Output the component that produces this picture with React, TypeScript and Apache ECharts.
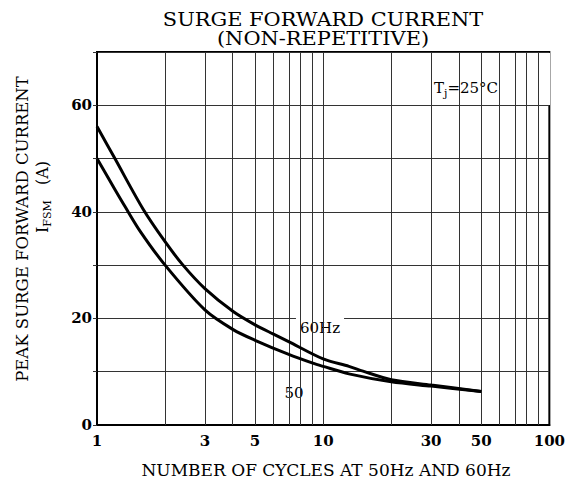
import React, { useEffect, useRef } from "react";
import * as echarts from "echarts";

const cycles60 = [1, 1.2, 1.6, 2, 2.4, 3, 4, 5, 6, 7, 10, 13, 15, 20, 30, 50];
const current60 = [56, 50, 40.5, 34.4, 30, 25.6, 21.3, 18.8, 17.1, 15.7, 12.4, 11, 10.1, 8.5, 7.5, 6.3];
const cycles50 = [1, 1.2, 1.33, 1.55, 2, 3, 4, 5, 7, 9, 10, 13, 20, 30, 50];
const current50 = [50, 44.2, 41, 36.4, 30, 21.6, 17.9, 15.9, 13.3, 11.6, 11, 9.6, 8.1, 7.3, 6.3];
const xTickLabels = [1, 3, 5, 10, 30, 50, 100];
const yTickLabels = [0, 20, 40, 60];
const gridCycles = [2, 3, 4, 5, 6, 7, 8, 9, 10, 20, 30, 40, 50, 60, 70, 80, 90];

const FONT = "DejaVu Serif";

export default function App() {
  const ref = useRef<HTMLDivElement>(null);
  useEffect(() => {
    if (!ref.current) return;
    const chart = echarts.init(ref.current, undefined, { renderer: "svg" });
    const toPts = (xs: number[], ys: number[]) => xs.map((x, i) => [Math.log10(x), ys[i]]);
    chart.setOption({
      animation: false,
      backgroundColor: "#fff",
      grid: { left: 97, right: 17, top: 52, bottom: 67, show: true, borderColor: "#000", borderWidth: 2 },
      xAxis: {
        type: "value",
        min: 0,
        max: 2,
        axisLine: { show: true, lineStyle: { color: "#000", width: 2 } },
        axisTick: { show: false },
        splitLine: { show: false },
        axisLabel: {
          customValues: xTickLabels.map((v) => Math.log10(v)),
          formatter: (v: number) => String(Math.round(Math.pow(10, v))),
          color: "#000",
          fontFamily: FONT,
          fontWeight: "bold",
          fontSize: 15,
          margin: 8,
        },
      },
      yAxis: {
        type: "value",
        min: 0,
        max: 70,
        interval: 10,
        axisLine: { show: true, lineStyle: { color: "#000", width: 2 } },
        axisTick: { show: true, length: 4, lineStyle: { color: "#333" } },
        splitLine: { show: true, lineStyle: { color: "#333", width: 1 } },
        axisLabel: {
          formatter: (v: number) => (yTickLabels.includes(v) ? String(v) : ""),
          color: "#000",
          fontFamily: FONT,
          fontWeight: "bold",
          fontSize: 15,
          margin: 5,
        },
      },
      graphic: [
        {
          type: "text",
          z: 10,
          x: 323,
          y: 29,
          scaleX: 1.1,
          style: {
            text: "SURGE FORWARD CURRENT\n(NON-REPETITIVE)",
            align: "center",
            verticalAlign: "middle",
            fill: "#000",
            fontFamily: FONT,
            fontSize: 19,
            lineHeight: 19,
          },
        },
        { type: "rect", z: 3, shape: { x: 395, y: 53, width: 155, height: 52 }, style: { fill: "#fff" } },
        {
          type: "text",
          z: 4,
          x: 466,
          y: 88,
          style: {
            text: "{t|T}{s|j}{t|=25°C}",
            align: "center",
            verticalAlign: "middle",
            rich: {
              t: { fontSize: 15, fontFamily: FONT, lineHeight: 22, fill: "#000" },
              s: { fontSize: 11, fontFamily: FONT, lineHeight: 12, verticalAlign: "bottom", fill: "#000" },
            },
          },
        },
        {
          type: "text",
          z: 4,
          x: 320,
          y: 328,
          style: {
            text: "60Hz",
            align: "center",
            verticalAlign: "middle",
            fontFamily: FONT,
            fontSize: 15,
            fill: "#000",
            backgroundColor: "#fff",
            padding: [6, 4, 6, 4],
          },
        },
        {
          type: "text",
          z: 4,
          x: 294,
          y: 393,
          style: {
            text: "50",
            align: "center",
            verticalAlign: "middle",
            fontFamily: FONT,
            fontSize: 15,
            fill: "#000",
            backgroundColor: "#fff",
            padding: [7, 4, 7, 4],
          },
        },
        {
          type: "text",
          z: 10,
          x: 326,
          y: 470,
          style: {
            text: "NUMBER OF CYCLES AT 50Hz AND 60Hz",
            align: "center",
            verticalAlign: "middle",
            fontFamily: FONT,
            fontSize: 17,
            fill: "#000",
          },
        },
        {
          type: "text",
          z: 10,
          x: 22,
          y: 229,
          rotation: Math.PI / 2,
          style: {
            text: "PEAK SURGE FORWARD CURRENT",
            align: "center",
            verticalAlign: "middle",
            fontFamily: FONT,
            fontSize: 16.5,
            fill: "#000",
          },
        },
        {
          type: "text",
          z: 10,
          x: 42,
          y: 197,
          rotation: Math.PI / 2,
          style: {
            text: "{t|I}{s|FSM}{t|   (A)}",
            align: "center",
            verticalAlign: "middle",
            rich: {
              t: { fontSize: 16, fontFamily: FONT, lineHeight: 22, fill: "#000" },
              s: { fontSize: 11, fontFamily: FONT, lineHeight: 12, verticalAlign: "bottom", fill: "#000" },
            },
          },
        },
      ],
      series: [
        {
          type: "line",
          name: "grid",
          data: [],
          z: 1,
          markLine: {
            silent: true,
            symbol: "none",
            label: { show: false },
            lineStyle: { color: "#333", width: 1, type: "solid" },
            data: gridCycles.map((c) => ({ xAxis: Math.log10(c) })),
          },
        },
        {
          type: "line",
          name: "60Hz",
          data: toPts(cycles60, current60),
          smooth: 0.3,
          showSymbol: false,
          z: 6,
          lineStyle: { color: "#000", width: 3 },
        },
        {
          type: "line",
          name: "50Hz",
          data: toPts(cycles50, current50),
          smooth: 0.3,
          showSymbol: false,
          z: 6,
          lineStyle: { color: "#000", width: 3 },
        },
      ],
    });
    return () => chart.dispose();
  }, []);
  return <div ref={ref} style={{ position: "absolute", left: 0, top: 0, width: 568, height: 492 }} />;
}
